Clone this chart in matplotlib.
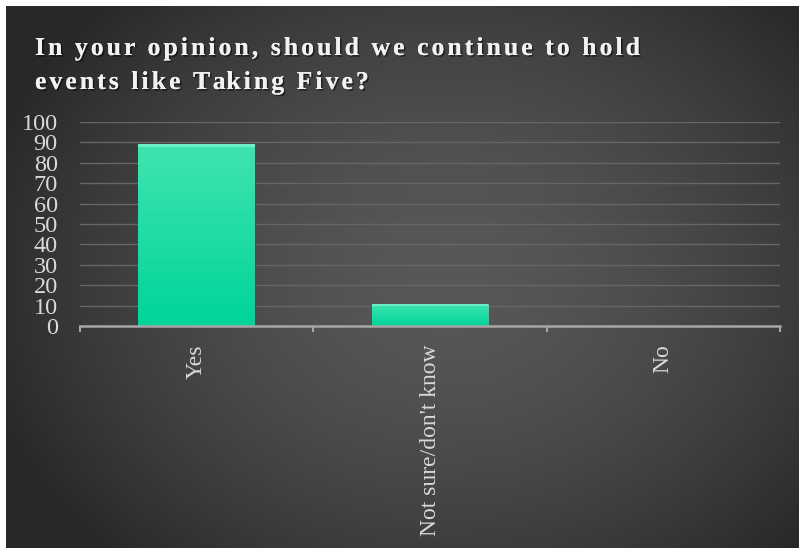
import numpy as np
import matplotlib
matplotlib.use('Agg')
import matplotlib.pyplot as plt
import matplotlib.patheffects as pe
from matplotlib.font_manager import FontProperties
from matplotlib.textpath import TextToPath

# data
categories = ['Yes', 'Not sure/don\'t know', 'No']
values = [89, 11, 0]
y_ticks = [0, 10, 20, 30, 40, 50, 60, 70, 80, 90, 100]
title_lines = ['In your opinion, should we continue to hold', 'events like Taking Five?']

W, H, DPI = 799, 548, 100
fig = plt.figure(figsize=(W / DPI, H / DPI), dpi=DPI)
fig.patch.set_facecolor('white')

# dark radial background panel
bg = fig.add_axes([6 / W, 0, 1 - 6 / W, 1 - 6 / H])
bg.set_axis_off()
yy, xx = np.mgrid[0:542, 0:793]
r = np.sqrt(((xx - 440) / 470.0) ** 2 + ((yy - 270) / 380.0) ** 2)
shade = np.clip(0.345 - 0.18 * r ** 1.6, 0.16, 1)
bg.imshow(np.dstack([shade] * 3), aspect='auto', extent=(0, 1, 0, 1), interpolation='bilinear')
bg.set_xlim(0, 1)
bg.set_ylim(0, 1)

# title with letter tracking and a soft shadow
fprop = FontProperties(family='Liberation Serif', weight='bold', size=18.5)
t2p = TextToPath()
shadow = [pe.withSimplePatchShadow(offset=(1.2, -1.2), shadow_rgbFace='black', alpha=0.5), pe.Normal()]


def prefix_px(s):
    w, h, d = t2p.get_text_width_height_descent(s, fprop, ismath=False)
    return w * DPI / 72.0


line1_natural = prefix_px(title_lines[0])
track = (605 - line1_natural) / (len(title_lines[0]) - 1)
for line, base_y in zip(title_lines, [55, 89]):
    for i, ch in enumerate(line):
        if ch == ' ':
            continue
        x = 35 + prefix_px(line[:i]) + i * track
        fig.text(x / W, 1 - base_y / H, ch, fontproperties=fprop, color='#f2f2f2',
                 ha='left', va='baseline', path_effects=shadow)

# plot area
ax = fig.add_axes([80 / W, 1 - 326 / H, 700 / W, 204 / H])
ax.patch.set_alpha(0)
x = np.arange(len(categories))
bars = ax.bar(x, values, width=0.5, color='#0fd9a0', edgecolor='#0a6e52', linewidth=0.8, zorder=3)

grad = np.linspace(0, 1, 100)[:, None]
cols = np.zeros((100, 1, 3))
top_c = np.array([0x40, 0xe4, 0xb0]) / 255
bot_c = np.array([0x00, 0xd4, 0x9a]) / 255
cols[:, 0, :] = top_c * (1 - grad) + bot_c * grad
for b in bars:
    if b.get_height() <= 0:
        continue
    bx, bw, bh = b.get_x(), b.get_width(), b.get_height()
    im = ax.imshow(cols, extent=(bx, bx + bw, 0, bh), aspect='auto', zorder=3.5, interpolation='bilinear')
    im.set_clip_path(b)
    ax.add_patch(plt.Rectangle((bx, bh - 1.2), bw, 1.2, color='#8ff5d6', alpha=0.6, zorder=4, linewidth=0))

ax.set_xlim(-0.5, len(categories) - 0.5)
ax.set_ylim(0, 100)
ax.set_yticks(y_ticks)
ax.yaxis.grid(True, color='#666666', linewidth=1.0, zorder=0)
ax.set_axisbelow(True)
for s in ['top', 'right', 'left']:
    ax.spines[s].set_visible(False)
ax.spines['bottom'].set_color('#a6a6a6')
ax.spines['bottom'].set_linewidth(1.8)
ax.spines['bottom'].set_zorder(5)

ax.tick_params(axis='y', length=0, pad=16, labelsize=17.5, labelcolor='#d9d9d9')
for lab in ax.get_yticklabels():
    lab.set_fontfamily('Liberation Serif')

ax.set_xticks(x)
ax.set_xticklabels(categories, rotation=90, fontfamily='Liberation Serif', fontsize=17, color='#d9d9d9')
ax.tick_params(axis='x', which='major', length=0, pad=13)
ax.set_xticks(np.arange(-0.5, len(categories), 1), minor=True)
ax.tick_params(axis='x', which='minor', length=4, width=1.5, color='#a6a6a6', direction='out')

fig.savefig('out.png', dpi=DPI)
